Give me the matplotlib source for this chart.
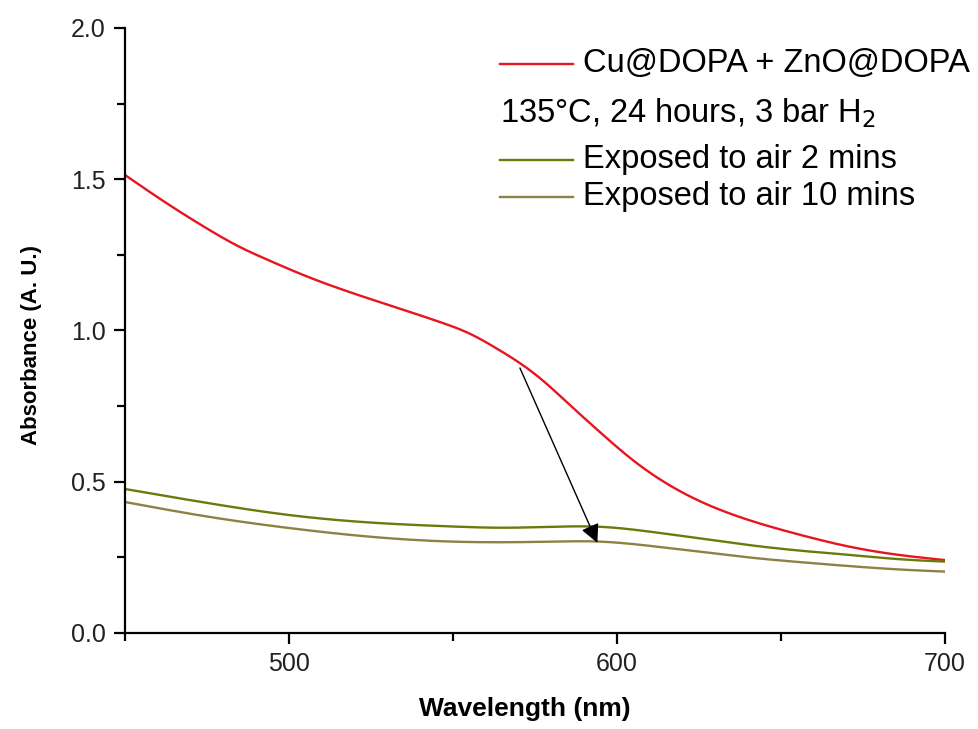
import numpy as np
import matplotlib.pyplot as plt
from matplotlib.ticker import MultipleLocator

plt.rcParams['font.family'] = ['Liberation Sans', 'DejaVu Sans']

# UV-vis spectra (wavelength in nm, absorbance in A.U.)
wl_fresh = [450, 460, 475, 485, 493, 504, 519, 533, 546, 555, 564, 570, 577,
            585, 595, 605, 615, 625, 640, 656, 671, 686, 700]
abs_fresh = [1.514, 1.44, 1.337, 1.276, 1.236, 1.185, 1.125, 1.075, 1.028,
             0.99, 0.936, 0.895, 0.838, 0.76, 0.662, 0.57, 0.495, 0.437,
             0.374, 0.324, 0.285, 0.258, 0.241]

wl_air = [450, 475, 500, 525, 550, 564, 580, 595, 610, 625, 640, 656, 671,
          686, 700]
abs_air_2 = [0.476, 0.43, 0.39, 0.365, 0.352, 0.348, 0.351, 0.351, 0.335,
             0.313, 0.291, 0.272, 0.258, 0.244, 0.236]
abs_air_10 = [0.433, 0.385, 0.347, 0.318, 0.302, 0.3, 0.302, 0.302, 0.288,
              0.269, 0.25, 0.234, 0.221, 0.21, 0.203]

labels = ['Cu@DOPA + ZnO@DOPA', 'Exposed to air 2 mins', 'Exposed to air 10 mins']
condition = '135\u00b0C, 24 hours, 3 bar H$_2$'
colors = ['#e8141e', '#6b7a0c', '#8c8244']


def spline(x, y, n=400):
    # natural cubic spline through the read points
    x = np.asarray(x, float)
    y = np.asarray(y, float)
    h = np.diff(x)
    N = len(x)
    A = np.zeros((N, N))
    b = np.zeros(N)
    A[0, 0] = A[-1, -1] = 1
    for k in range(1, N - 1):
        A[k, k - 1] = h[k - 1]
        A[k, k] = 2 * (h[k - 1] + h[k])
        A[k, k + 1] = h[k]
        b[k] = 6 * ((y[k + 1] - y[k]) / h[k] - (y[k] - y[k - 1]) / h[k - 1])
    M = np.linalg.solve(A, b)
    xs = np.linspace(x[0], x[-1], n)
    i = np.clip(np.searchsorted(x, xs) - 1, 0, N - 2)
    a = x[i + 1] - xs
    c = xs - x[i]
    hi = h[i]
    ys = (M[i] * a**3 / (6 * hi) + M[i + 1] * c**3 / (6 * hi)
          + (y[i] / hi - M[i] * hi / 6) * a + (y[i + 1] / hi - M[i + 1] * hi / 6) * c)
    return xs, ys


fig = plt.figure(figsize=(9.79, 7.29), dpi=100)
ax = fig.add_axes([0.1277, 0.1317, 0.8376, 0.8299])

ax.plot(*spline(wl_fresh, abs_fresh), color=colors[0], lw=1.7)
ax.plot(*spline(wl_air, abs_air_2), color=colors[1], lw=1.7)
ax.plot(*spline(wl_air, abs_air_10), color=colors[2], lw=1.7)

# arrow from the fresh spectrum down to the air-exposed ones
ax.annotate('', xy=(594, 0.298), xytext=(570.4, 0.876),
            arrowprops=dict(arrowstyle='-|>', color='black', lw=1.0,
                            mutation_scale=28, shrinkA=0, shrinkB=0))

ax.set_xlim(450, 700)
ax.set_ylim(0, 2.0)
ax.xaxis.set_minor_locator(MultipleLocator(50))
ax.yaxis.set_major_locator(MultipleLocator(0.5))
ax.yaxis.set_minor_locator(MultipleLocator(0.25))
ax.set_xticks([500, 600, 700])
ax.yaxis.set_major_formatter(plt.FormatStrFormatter('%.1f'))

for side in ['top', 'right']:
    ax.spines[side].set_visible(False)
for side in ['left', 'bottom']:
    ax.spines[side].set_linewidth(1.6)

ax.tick_params(which='major', direction='out', length=8, width=1.6,
               labelsize=18, labelcolor='#222222', pad=6)
ax.tick_params(which='minor', direction='out', length=6, width=1.6)

ax.set_xlabel('Wavelength (nm)', fontsize=19, fontweight='bold')
ax.set_ylabel('Absorbance (A. U.)', fontsize=16, fontweight='bold')
ax.xaxis.set_label_coords(0.488, -0.105)
ax.yaxis.set_label_coords(-0.101, 0.476)

# hand-laid legend
ty = [0.9405, 0.782, 0.7207]
for c, lab, y in zip(colors, labels, ty):
    ax.plot([0.457, 0.546], [y, y], color=c, lw=1.7, transform=ax.transAxes,
            clip_on=False)
    ax.text(0.5585, y, lab, transform=ax.transAxes, fontsize=23.5,
            va='center', ha='left')
ax.text(0.457, 0.8595, condition, transform=ax.transAxes, fontsize=23.5,
        va='center', ha='left')

fig.savefig('out.png', dpi=100)
